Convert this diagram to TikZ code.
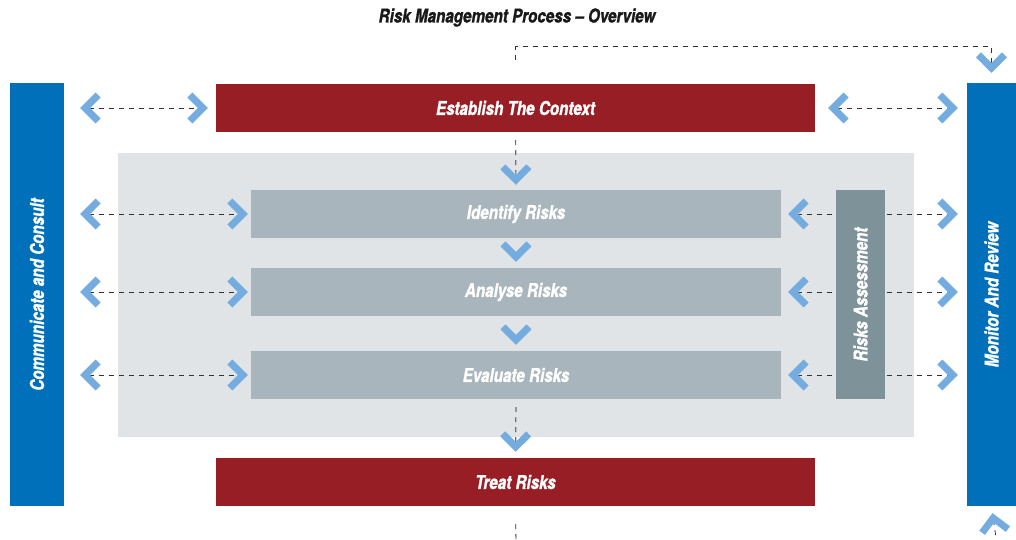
\documentclass[tikz,border=0pt]{standalone}
\usepackage{fontspec}
\setmainfont{TeX Gyre Heros}[FakeStretch=0.8, BoldItalicFeatures={FakeBold=1.2}]
\usetikzlibrary{arrows.meta,calc}
\definecolor{barblue}{HTML}{0070BA}
\definecolor{boxred}{HTML}{971E24}
\definecolor{bggrey}{HTML}{E1E4E7}
\definecolor{stepgrey}{HTML}{A9B5BC}
\definecolor{ragrey}{HTML}{7E9399}
\definecolor{chev}{HTML}{74ACDF}
\definecolor{dashdark}{HTML}{333333}
\definecolor{dashmid}{HTML}{707070}
\tikzset{
  chevtip/.tip={Straight Barb[length=13pt, width=26pt, line width=7pt, sharp, color=chev]},
  lbl/.style={text=white, font=\bfseries\itshape\fontsize{19}{21}\selectfont},
  bar/.style={fill=barblue, inner sep=0, lbl},
  redbox/.style={fill=boxred, inner sep=0, lbl},
  stepbox/.style={fill=stepgrey, inner sep=0, lbl},
  darr/.style={dashdark, line width=0.8pt, dash pattern=on 5pt off 5pt, {chevtip}-{chevtip}},
  dvarr/.style={dashmid, line width=1.2pt, dash pattern=on 5pt off 5pt, -{chevtip}},
  dloop/.style={dashdark, line width=0.8pt, dash pattern=on 5pt off 5pt},
}
\begin{document}
\begin{tikzpicture}[x=1pt, y=-1pt]
\clip (0,0) rectangle (1016,539);
\fill[white] (0,0) rectangle (1016,539);
\node[font=\bfseries\itshape\fontsize{19}{21}\selectfont, text=black!90] (title) at (517,17.5) {Risk Management Process -- Overview};
\fill[bggrey] (118,153) rectangle (914,437);
\node[bar, minimum width=54, minimum height=423] (cc) at (37,294.5) {};
\node[bar, minimum width=49, minimum height=423] (mr) at (991.5,294.5) {};
\node[rotate=90, lbl] at (cc.center) {Communicate and Consult};
\node[rotate=90, lbl] at (mr.center) {Monitor And Review};
\node[redbox, minimum width=599, minimum height=48] (ctx) at (515.5,108) {Establish The Context};
\node[redbox, minimum width=599, minimum height=48] (tr) at (515.5,482) {Treat Risks};
\node[stepbox, minimum width=530, minimum height=48] (id) at (516,214) {Identify Risks};
\node[stepbox, minimum width=530, minimum height=48] (an) at (516,292) {Analyse Risks};
\node[stepbox, minimum width=530, minimum height=48] (ev) at (516,375) {Evaluate Risks};
% horizontal two-way arrows
\draw[darr, shorten <=16pt, shorten >=8pt] (cc.east |- ctx.west) -- (ctx.west);
\draw[darr, shorten <=13pt, shorten >=9pt] (ctx.east) -- (mr.west |- ctx.east);
\foreach \n in {id,an,ev}{
  \draw[darr, shorten <=16pt, shorten >=3pt] (cc.east |- \n.west) -- (\n.west);
  \draw[darr, shorten <=7pt, shorten >=9pt] (\n.east) -- (mr.west |- \n.east);
}
% vertical flow
\draw[dvarr, shorten <=8pt, shorten >=5pt] (ctx.south) -- (id.north);
\draw[chev, line width=0.5pt, -{chevtip}, shorten <=19pt, shorten >=6pt] (id.south) -- (an.north);
\draw[chev, line width=0.5pt, -{chevtip}, shorten <=22pt, shorten >=6pt] (an.south) -- (ev.north);
\draw[dvarr, shorten <=8pt, shorten >=6pt] (ev.south) -- (tr.north);
% feedback loop
\coordinate (bl) at (516,545);
\coordinate (br) at (997,545);
\draw[dloop, -{chevtip}, shorten <=24pt, shorten >=10pt] (ctx.north) -- ++(0,-37) -| (mr.north);
\draw[dloop, shorten <=18pt] (tr.south) -- (bl);
\draw[dloop, -{chevtip}, shorten >=7pt] (br) -- (mr.south);
% risks assessment on top
\node[fill=ragrey, inner sep=0, minimum width=49, minimum height=209, lbl] (ra) at (860.5,294.5) {};
\node[rotate=90, lbl] at (ra.center) {Risks Assessment};
\end{tikzpicture}
\end{document}
